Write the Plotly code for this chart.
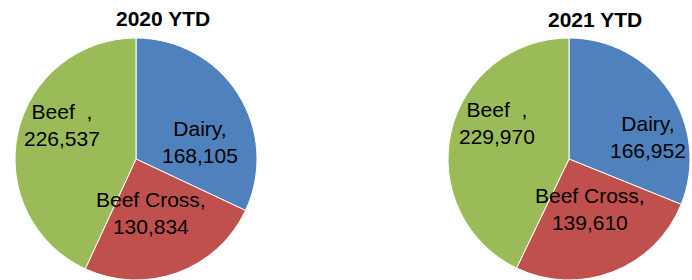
import plotly.graph_objects as go

categories = ["Dairy", "Beef Cross", "Beef\u00a0\u00a0"]
values_2020 = [168105, 130834, 226537]
values_2021 = [166952, 139610, 229970]
titles = ["2020 YTD", "2021 YTD"]
colors = ["#4F81BD", "#C0504D", "#9BBB59"]

W, H = 692, 280

fig = go.Figure()

def px_x(x):
    return x / W

def px_y(y):
    return 1 - y / H

pies = [
    (values_2020, [15 / W, 257 / W], [0, 242 / H]),
    (values_2021, [448 / W, 690 / W], [0, 242 / H]),
]
for vals, dx, dy in pies:
    fig.add_trace(go.Pie(
        labels=categories, values=vals, sort=False, direction="clockwise",
        rotation=0, textinfo="none", hole=0,
        marker=dict(colors=colors, line=dict(color="white", width=1)),
        domain=dict(x=dx, y=dy), showlegend=False,
    ))

# label positions (px) for each pie, per category
label_pos = [
    [(200, 142), (151, 213), (62, 125)],
    [(648, 137), (590, 209), (497, 123)],
]
title_pos = [(163, 18), (595, 20)]

annotations = []
for i, vals in enumerate([values_2020, values_2021]):
    tx, ty = title_pos[i]
    annotations.append(dict(
        x=px_x(tx), y=px_y(ty), xref="paper", yref="paper", text=f"<b>{titles[i]}</b>",
        showarrow=False, xanchor="center", yanchor="middle",
        font=dict(family="Liberation Sans, Arial, sans-serif", size=21, color="black"),
    ))
    for j, (cat, v) in enumerate(zip(categories, vals)):
        lx, ly = label_pos[i][j]
        annotations.append(dict(
            x=px_x(lx), y=px_y(ly), xref="paper", yref="paper",
            text=f"{cat},<br>{v:,}", showarrow=False, xanchor="center", yanchor="middle",
            align="center",
            font=dict(family="Liberation Sans, Arial, sans-serif", size=21, color="black"),
        ))

fig.update_layout(
    width=W, height=H, margin=dict(l=0, r=0, t=0, b=0),
    paper_bgcolor="white", plot_bgcolor="white", annotations=annotations,
)

fig.write_html(
    "out.html",
    config={"displayModeBar": False},
    post_script="document.body.style.margin='0';document.body.style.padding='0';",
)
